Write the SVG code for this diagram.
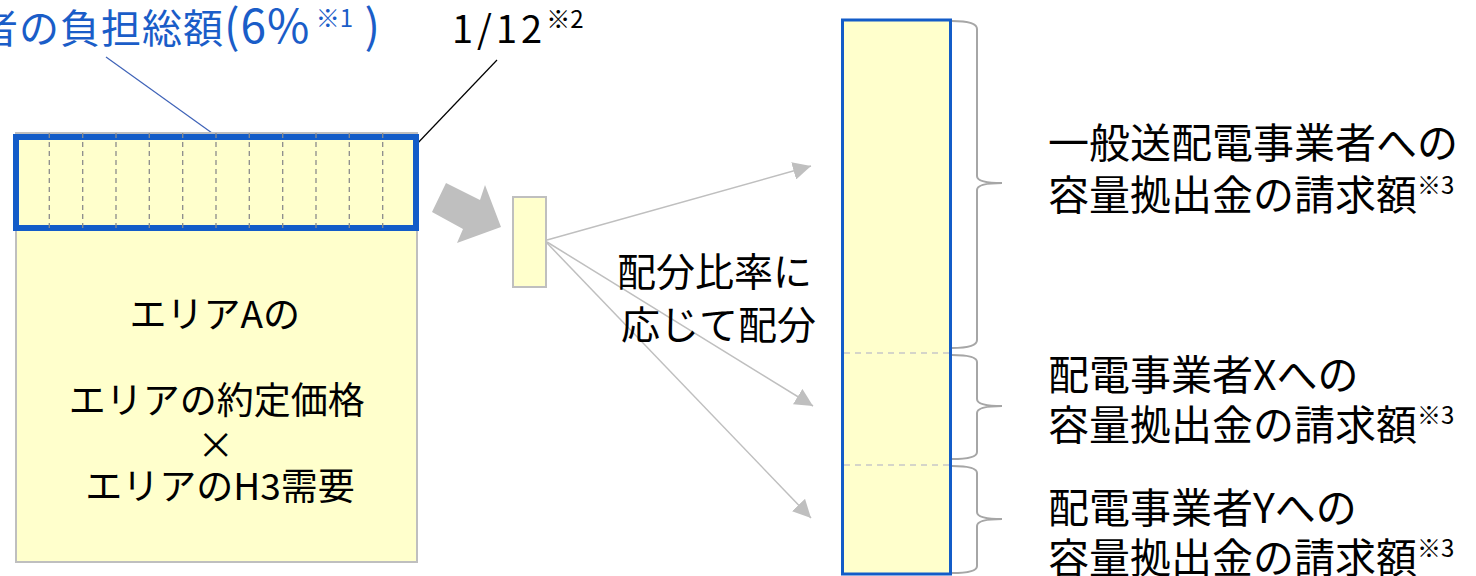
<svg xmlns="http://www.w3.org/2000/svg" width="1476" height="576" viewBox="0 0 1476 576">
<defs>
<style>
.t{font-family:"Noto Sans CJK JP","Noto Sans",sans-serif;fill:#000}
.b{fill:#1A5DC8}
.sup{font-size:24px}
.box{fill:#FFFFCC;stroke:#BFBFBF;stroke-width:2}
.dash{stroke:#8C8C8C;stroke-width:1.3;stroke-dasharray:5 4}
.div{stroke:#C8C8C8;stroke-width:1.3;stroke-dasharray:6 5}
.con{stroke:#BFBFBF;stroke-width:1.5;fill:none}
.brace{stroke:#A6A6A6;stroke-width:2;fill:none}
</style>
<marker id="ah" viewBox="0 0 10 10" refX="10" refY="5" markerWidth="18" markerHeight="18" markerUnits="userSpaceOnUse" orient="auto">
<path d="M0,0 L10,5 L0,10 z" fill="#BFBFBF"/>
</marker>
</defs>

<g id="label-total">
<text class="t b" x="-22" y="43" font-size="40" letter-spacing="1">者の負担総額<tspan font-size="46">(6%</tspan><tspan class="sup" font-size="26" dy="-16" letter-spacing="0"> ※1</tspan><tspan dy="16" font-size="46"> )</tspan></text>
<line x1="106" y1="57" x2="212" y2="133" stroke="#3F63B8" stroke-width="1.2"/>
</g>

<g id="label-twelfth">
<text class="t" x="452" y="43" font-size="38" letter-spacing="4">1/12<tspan class="sup" font-size="25" dy="-15" letter-spacing="0">※2</tspan></text>
<line x1="497" y1="60" x2="393" y2="169" stroke="#000" stroke-width="1.2"/>
</g>

<g id="area-box">
<rect class="box" x="16" y="133" width="401" height="429"/>
<rect x="16" y="137" width="400" height="91" fill="#FFFFCC" stroke="#135CC8" stroke-width="6"/>
<g class="dash">
<line x1="49.3" y1="133" x2="49.3" y2="229"/>
<line x1="82.7" y1="133" x2="82.7" y2="229"/>
<line x1="116" y1="133" x2="116" y2="229"/>
<line x1="149.3" y1="133" x2="149.3" y2="229"/>
<line x1="182.7" y1="133" x2="182.7" y2="229"/>
<line x1="216" y1="133" x2="216" y2="229"/>
<line x1="249.3" y1="133" x2="249.3" y2="229"/>
<line x1="282.7" y1="133" x2="282.7" y2="229"/>
<line x1="316" y1="133" x2="316" y2="229"/>
<line x1="349.3" y1="133" x2="349.3" y2="229"/>
<line x1="382.7" y1="133" x2="382.7" y2="229"/>
</g>
<text class="t" text-anchor="middle" font-size="37">
<tspan x="219" y="328">エリアAの</tspan>
<tspan x="221" y="414">エリアの約定価格</tspan>
<tspan x="220" y="459">×</tspan>
<tspan x="220" y="500">エリアのH3需要</tspan>
</text>
</g>

<g id="big-arrow">
<polygon points="432,212 446,183 480,200 485,185 501,227 457,243 463,229" fill="#BFBFBF"/>
</g>

<g id="small-box">
<rect class="box" x="513" y="197" width="33" height="90"/>
</g>

<g id="connectors">
<line class="con" x1="547" y1="240" x2="811" y2="166" marker-end="url(#ah)"/>
<line class="con" x1="547" y1="242" x2="813" y2="406" marker-end="url(#ah)"/>
<line class="con" x1="547" y1="243" x2="811" y2="518" marker-end="url(#ah)"/>
</g>

<g id="ratio-label">
<text class="t" font-size="39">
<tspan x="617" y="286">配分比率に</tspan>
<tspan x="621" y="339">応じて配分</tspan>
</text>
</g>

<g id="bar">
<rect x="842.5" y="20" width="108" height="554" fill="#FFFFCC" stroke="#135CC8" stroke-width="3"/>
<line class="div" x1="844" y1="353" x2="949" y2="353"/>
<line class="div" x1="844" y1="465" x2="949" y2="465"/>
</g>

<g id="braces">
<path class="brace" d="M952,21 Q977,21 977,29 L977,176 Q977,183 1002,183 Q977,183 977,190 L977,340 Q977,348 952,348"/>
<path class="brace" d="M952,355 Q977,355 977,362 L977,399 Q977,406 1002,406 Q977,406 977,413 L977,452 Q977,459 952,459"/>
<path class="brace" d="M952,466 Q977,466 977,473 L977,512 Q977,519 1002,519 Q977,519 977,526 L977,566 Q977,573 952,573"/>
</g>

<g id="label-general">
<text class="t" font-size="41"><tspan x="1048" y="158">一般送配電事業者への</tspan><tspan x="1048" y="210">容量拠出金の請求額<tspan class="sup" font-size="26" dy="-16">※3</tspan></tspan></text>
</g>
<g id="label-x">
<text class="t" font-size="41"><tspan x="1048" y="390">配電事業者Xへの</tspan><tspan x="1048" y="440">容量拠出金の請求額<tspan class="sup" font-size="26" dy="-16">※3</tspan></tspan></text>
</g>
<g id="label-y">
<text class="t" font-size="41"><tspan x="1048" y="523">配電事業者Yへの</tspan><tspan x="1048" y="573">容量拠出金の請求額<tspan class="sup" font-size="26" dy="-16">※3</tspan></tspan></text>
</g>
</svg>
